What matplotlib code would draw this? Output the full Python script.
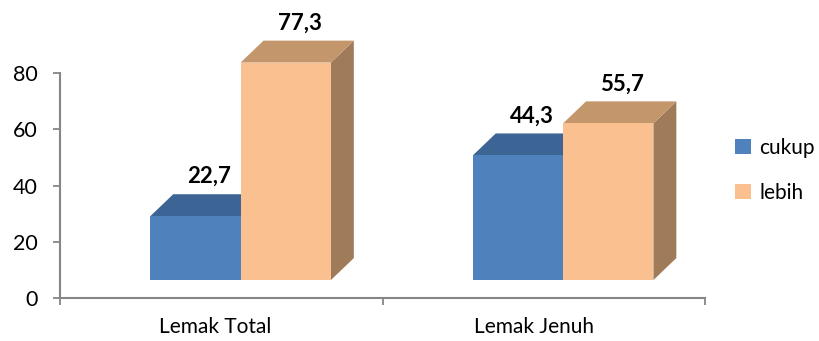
import matplotlib
matplotlib.use("Agg")
import matplotlib.pyplot as plt
from matplotlib.patches import Polygon, Patch

plt.rcParams['font.family'] = ['Lato', 'DejaVu Sans']

categories = ["Lemak Total", "Lemak Jenuh"]
series_names = ["cukup", "lebih"]
cukup = [22.7, 44.3]
lebih = [77.3, 55.7]
value_labels = [["22,7", "44,3"], ["77,3", "55,7"]]

# fake 3d look (Excel style)
BASE = 6.4      # front face bottom above axis, data units
DX = 0.071      # depth offset, x data units
DY = 7.8        # depth offset, y data units
BAR_W = 0.28
colors = {
    "cukup": ("#4F81BD", "#3C6494", "#385D8A"),
    "lebih": ("#FAC090", "#C3966C", "#A07B5A"),
}


def draw_box(ax, x0, h, cols):
    front, top, side = cols
    y0 = BASE
    y1 = BASE + h
    x1 = x0 + BAR_W
    kw = dict(clip_on=False, linewidth=0)
    ax.add_patch(Polygon([(x1, y0), (x1 + DX, y0 + DY), (x1 + DX, y1 + DY), (x1, y1)],
                         facecolor=side, **kw))
    ax.add_patch(Polygon([(x0, y1), (x1, y1), (x1 + DX, y1 + DY), (x0 + DX, y1 + DY)],
                         facecolor=top, **kw))
    ax.add_patch(Polygon([(x0, y0), (x1, y0), (x1, y1), (x0, y1)],
                         facecolor=front, **kw))


fig = plt.figure(figsize=(8.2, 3.41), dpi=100)
ax = fig.add_axes([0.0732, 0.126, 0.7866, 0.660])

for i in range(len(categories)):
    c = i + 0.5
    xs = [c - 0.22, c + 0.06]
    for j, (name, vals) in enumerate([("cukup", cukup), ("lebih", lebih)]):
        draw_box(ax, xs[j], vals[i], colors[name])
        ax.text(xs[j] + BAR_W / 2 + DX * 0.6, vals[i] + BASE + DY + 2.5,
                value_labels[j][i], ha='center', va='bottom',
                fontsize=16, fontweight='bold', color='black')

ax.set_xlim(0, 2)
ax.set_ylim(0, 80)
ax.set_yticks([0, 20, 40, 60, 80])
ax.set_xticks([0, 1, 2])
ax.set_xticklabels([])
ax.set_xticks([0.48, 1.47], minor=True)
ax.set_xticklabels(categories, minor=True, fontsize=15)
ax.tick_params(axis='x', which='minor', length=0, pad=14)
ax.tick_params(axis='x', which='major', length=5, width=1.3, color='#868686')
ax.tick_params(axis='y', length=5, width=1.3, color='#868686', labelsize=15.5, pad=11)

for s in ['top', 'right']:
    ax.spines[s].set_visible(False)
for s in ['left', 'bottom']:
    ax.spines[s].set_color('#868686')
    ax.spines[s].set_linewidth(1.5)

handles = [Patch(facecolor=colors[n][0], edgecolor='none') for n in series_names]
fig.legend(handles, series_names, loc='center left', bbox_to_anchor=(0.874, 0.50),
           frameon=False, fontsize=15, handlelength=0.75, handleheight=0.75,
           handletextpad=0.4, labelspacing=1.2)

fig.savefig("out.png", dpi=100)
